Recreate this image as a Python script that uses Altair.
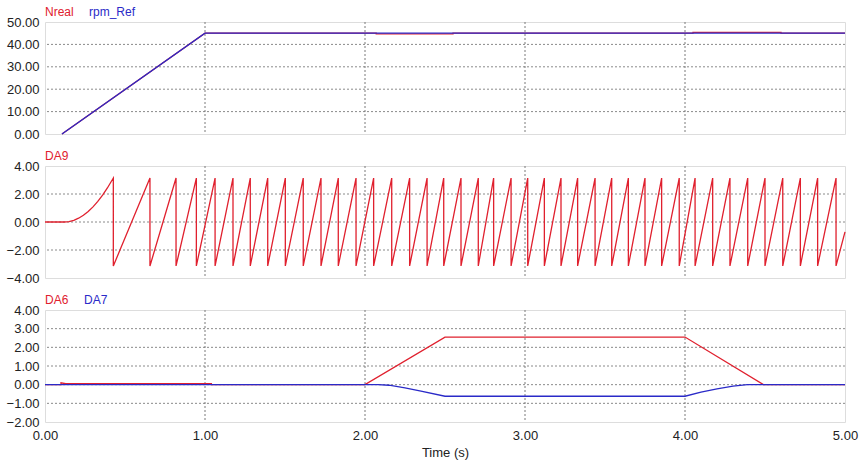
import altair as alt
import pandas as pd

RED = "#e0202e"
BLUE = "#2a2ac8"

# ---------- Panel 1: speed ----------
ref_t = [0.106, 1.0, 5.0]
ref_v = [0.0, 45.0, 45.0]
nreal_t = [0.106, 1.0, 1.05, 2.07, 2.07, 2.55, 2.55, 4.05, 4.05, 4.6, 4.6, 5.0]
nreal_v = [0.0, 45.0, 45.0, 45.0, 44.7, 44.7, 45.0, 45.0, 45.4, 45.4, 45.0, 45.0]

# ---------- Panel 2: DA9 (angle sawtooth) ----------
da9_start_t = [0.0, 0.12, 0.15, 0.18, 0.21, 0.24, 0.27, 0.30, 0.33, 0.36, 0.39, 0.427]
da9_start_v = [0.0, 0.0, 0.03, 0.12, 0.27, 0.48, 0.75, 1.08, 1.47, 1.92, 2.43, 3.14]
da9_peak_t = [0.427, 0.656, 0.819, 0.946, 1.063, 1.175, 1.283, 1.392, 1.502,
              1.614, 1.725, 1.833, 1.944, 2.054, 2.167, 2.279, 2.388, 2.492,
              2.600, 2.708, 2.804, 2.913, 3.017, 3.121, 3.225, 3.329, 3.438,
              3.542, 3.646, 3.750, 3.854, 3.964, 4.063, 4.173, 4.281, 4.392,
              4.500, 4.611, 4.721, 4.829, 4.944]
da9_peak_hi = 3.14
da9_peak_lo = -3.14
da9_end_t = [5.0]
da9_end_v = [-0.7]

# ---------- Panel 3: DA6 / DA7 ----------
da6_t = [0.0, 0.10, 0.10, 0.13, 1.04, 1.04, 2.0, 2.5, 4.0, 4.49, 5.0]
da6_v = [0.0, 0.0, 0.1, 0.05, 0.05, 0.0, 0.0, 2.55, 2.55, 0.0, 0.0]
da7_t = [0.0, 2.08, 2.15, 2.25, 2.35, 2.5, 4.0, 4.1, 4.2, 4.3, 4.39, 5.0]
da7_v = [0.0, 0.0, -0.03, -0.17, -0.35, -0.62, -0.62, -0.40, -0.22, -0.08, 0.0, 0.0]

x_ticks = [0, 1, 2, 3, 4, 5]
x_grid = [1, 2, 3, 4]
y1_ticks = [0, 10, 20, 30, 40, 50]
y2_ticks = [-4, -2, 0, 2, 4]
y3_ticks = [-2, -1, 0, 1, 2, 3, 4]


def frame(ts, vs):
    return pd.DataFrame({"t": ts, "v": vs, "i": list(range(len(ts)))})


# build DA9 sequence from read values
d9_t = list(da9_start_t[:-1])
d9_v = list(da9_start_v[:-1])
for pt in da9_peak_t:
    d9_t += [pt, pt]
    d9_v += [da9_peak_hi, da9_peak_lo]
d9_t += da9_end_t
d9_v += da9_end_v

W, H = 800, 112
FONT = "Liberation Sans"


def panel(series, ydom, yticks, labels, show_x):
    if show_x:
        xaxis = alt.Axis(values=x_ticks, format=".2f", grid=False, ticks=False,
                         domain=False, labelFlush=False, labelOverlap=False,
                         labelPadding=7, title="Time (s)", titlePadding=4,
                         titleFontWeight="normal", titleFontSize=13,
                         labelFontSize=13, labelColor="#222", titleColor="#222")
    else:
        xaxis = None
    xs = alt.Scale(domain=[0, 5], nice=False, zero=False)
    ys = alt.Scale(domain=ydom, nice=False, zero=False)
    yaxis = alt.Axis(values=yticks, format=".2f", grid=False, ticks=False,
                     domain=False, labelPadding=6, title=None,
                     labelFontSize=13, labelColor="#222", labelOverlap=False)

    inner = [t for t in yticks if ydom[0] < t < ydom[1]]
    hgrid = alt.Chart(pd.DataFrame({"g": inner})).mark_rule(
        color="#8a8a8a", strokeDash=[2, 2], strokeWidth=1
    ).encode(y=alt.Y("g:Q", scale=ys, axis=yaxis))
    vgrid = alt.Chart(pd.DataFrame({"g": x_grid})).mark_rule(
        color="#7a7a7a", strokeDash=[2, 2], strokeWidth=1
    ).encode(x=alt.X("g:Q", scale=xs, axis=xaxis))

    layers = [hgrid, vgrid]
    for df, col in series:
        layers.append(
            alt.Chart(df).mark_line(color=col, strokeWidth=1.3).encode(
                x=alt.X("t:Q", scale=xs, axis=xaxis),
                y=alt.Y("v:Q", scale=ys, axis=yaxis),
                order="i:Q",
            )
        )
    for text, col, xpos in labels:
        layers.append(
            alt.Chart(pd.DataFrame({"txt": [text]})).mark_text(
                align="left", baseline="middle", fontSize=12, font=FONT, color=col
            ).encode(text="txt:N", x=alt.value(xpos), y=alt.value(-10))
        )
    return alt.layer(*layers).properties(width=W, height=H)


p1 = panel([(frame(nreal_t, nreal_v), RED), (frame(ref_t, ref_v), BLUE)],
           [0, 50], y1_ticks,
           [("Nreal", RED, 0), ("rpm_Ref", BLUE, 44)], False)
p2 = panel([(frame(d9_t, d9_v), RED)], [-4, 4], y2_ticks,
           [("DA9", RED, 0)], False)
p3 = panel([(frame(da6_t, da6_v), RED), (frame(da7_t, da7_v), BLUE)],
           [-2, 4], y3_ticks,
           [("DA6", RED, 0), ("DA7", BLUE, 39)], True)

chart = alt.vconcat(p1, p2, p3, spacing=7).properties(
    padding={"left": 5, "top": 5, "right": 5, "bottom": 5},
    background="white",
).configure_view(
    stroke="#a0a0a0", strokeWidth=1.5
).configure(
    font=FONT
)

chart.save("out.html", embed_options={"renderer": "svg", "actions": False})
